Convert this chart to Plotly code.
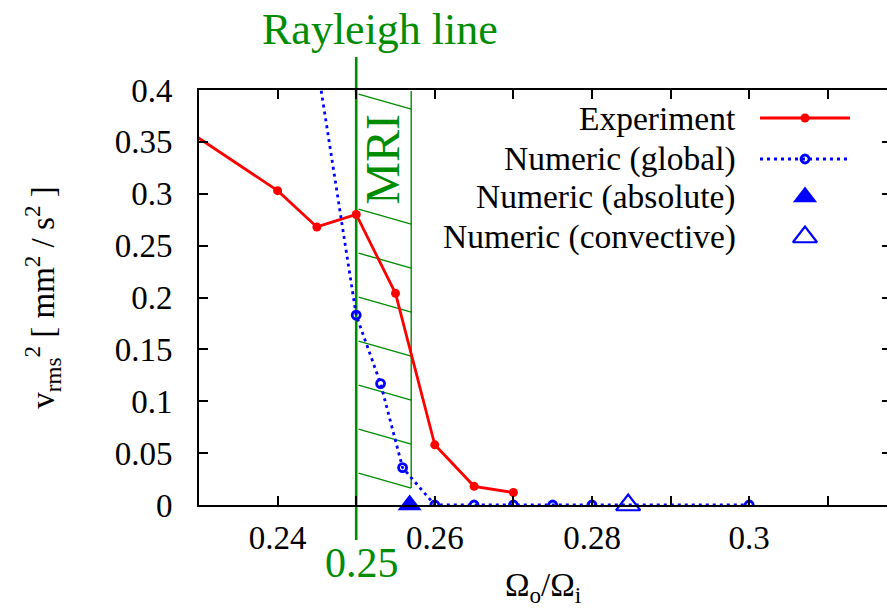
import plotly.graph_objects as go

# ---- data -------------------------------------------------------------
exp_ratio = [0.22, 0.24, 0.245, 0.25, 0.255, 0.26, 0.265, 0.27]
exp_vrms2 = [0.404, 0.303, 0.268, 0.280, 0.204, 0.058, 0.018, 0.012]

glob_ratio = [0.245, 0.25, 0.2531, 0.2559, 0.26, 0.265, 0.27, 0.275, 0.28, 0.30]
glob_vrms2 = [0.426, 0.183, 0.117, 0.036, 0.0, 0.0, 0.0, 0.0, 0.0, 0.0]

abs_ratio = [0.2568]
abs_vrms2 = [0.0]

conv_ratio = [0.2846]
conv_vrms2 = [0.0]

rayleigh_ratio = 0.25
mri_edge = 0.257

x_major = [0.24, 0.26, 0.28, 0.30]
x_major_text = ["0.24", "0.26", "0.28", "0.3"]
x_minor = [0.23, 0.25, 0.27, 0.29, 0.31]
y_ticks = [0.0, 0.05, 0.10, 0.15, 0.20, 0.25, 0.30, 0.35, 0.40]
y_tick_text = ["0", "0.05", "0.1", "0.15", "0.2", "0.25", "0.3", "0.35", "0.4"]

legend_labels = ["Experiment", "Numeric (global)", "Numeric (absolute)", "Numeric (convective)"]

# ---- styling ----------------------------------------------------------
FONT = "Liberation Serif"
RED = "#ff0000"
BLUE = "#0000ff"
GREEN = "#008c00"
W, H = 887, 609
ML, MR, MT, MB = 199, 0, 90, 104
PW, PH = W - ML - MR, H - MT - MB

fig = go.Figure()

exp_line = dict(color=RED, width=2.8)
exp_marker = dict(color=RED, size=9, symbol="circle")
glob_line = dict(color=BLUE, width=2.8, dash="3px,4px")
glob_marker = dict(color=BLUE, size=8, symbol="circle-open", line=dict(color=BLUE, width=2.8))
abs_marker = dict(color=BLUE, size=21, symbol="triangle-up")
conv_marker = dict(color=BLUE, size=21, symbol="triangle-up-open", line=dict(color=BLUE, width=2.2))

fig.add_trace(go.Scatter(x=exp_ratio, y=exp_vrms2, mode="lines+markers",
                         name=legend_labels[0], line=exp_line, marker=exp_marker))
fig.add_trace(go.Scatter(x=glob_ratio, y=glob_vrms2, mode="lines+markers",
                         name=legend_labels[1], line=glob_line, marker=glob_marker))
fig.add_trace(go.Scatter(x=abs_ratio, y=abs_vrms2, mode="markers", name=legend_labels[2],
                         marker=abs_marker, cliponaxis=False))
fig.add_trace(go.Scatter(x=conv_ratio, y=conv_vrms2, mode="markers", name=legend_labels[3],
                         marker=conv_marker, cliponaxis=False))
# carrier for the right-hand tick axis
fig.add_trace(go.Scatter(x=[], y=[], yaxis="y2", showlegend=False, hoverinfo="skip"))

# ---- key (drawn on a pixel-unit overlay axis) --------------------------
key_rows = [28, 69, 107, 147]
key_x0, key_x1, key_mid, key_text_right = 561, 651, 606, 539
key_styles = [(exp_line, exp_marker), (glob_line, glob_marker), (None, abs_marker),
              (None, conv_marker)]
for row, label, (ln, mk) in zip(key_rows, legend_labels, key_styles):
    if ln is not None:
        fig.add_trace(go.Scatter(x=[key_x0, key_x1], y=[row, row], mode="lines", line=ln,
                                 xaxis="x3", yaxis="y3", showlegend=False, hoverinfo="skip"))
    fig.add_trace(go.Scatter(x=[key_mid], y=[row], mode="markers", marker=mk,
                             xaxis="x3", yaxis="y3", showlegend=False, hoverinfo="skip"))
    fig.add_annotation(x=key_text_right, y=row, xref="x3", yref="y3", text=label,
                       showarrow=False, xanchor="right", yanchor="middle",
                       font=dict(family=FONT, size=33.5, color="black"))

# ---- Rayleigh line and hatched MRI band -------------------------------
shapes = []
shapes.append(dict(type="line", xref="x", yref="paper", x0=rayleigh_ratio, x1=rayleigh_ratio,
                   y0=-35 / PH, y1=(505 - 57) / PH, line=dict(color=GREEN, width=2.6),
                   layer="below"))
band_bottom, band_top = 0.0164, 0.399
shapes.append(dict(type="line", xref="x", yref="y", x0=mri_edge, x1=mri_edge,
                   y0=band_bottom, y1=band_top, line=dict(color=GREEN, width=1.4),
                   layer="below"))
hatch_x0 = rayleigh_ratio + 0.0003
hatch_drop = 0.0145
hatch_start, hatch_step = 0.0308, 0.0424
hatch_heights = [hatch_start + k * hatch_step for k in range(7)] + [0.396]
for h in hatch_heights:
    shapes.append(dict(type="line", xref="x", yref="y", x0=hatch_x0, x1=mri_edge,
                       y0=h, y1=h - hatch_drop, line=dict(color=GREEN, width=1.4),
                       layer="below"))
fig.update_layout(shapes=shapes)

fig.add_annotation(x=rayleigh_ratio, xref="x", xshift=24, y=(505 - 30) / PH, yref="paper",
                   text="Rayleigh line", showarrow=False, xanchor="center", yanchor="middle",
                   font=dict(family=FONT, size=44, color=GREEN))
fig.add_annotation(x=rayleigh_ratio, xref="x", xshift=6, y=(505 - 563) / PH, yref="paper",
                   text="0.25", showarrow=False, xanchor="center", yanchor="middle",
                   font=dict(family=FONT, size=42, color=GREEN))
fig.add_annotation(x=(rayleigh_ratio + mri_edge) / 2, xref="x", xshift=-1, y=0.3335, yref="y",
                   text="MRI", showarrow=False, textangle=-90, xanchor="center",
                   yanchor="middle", font=dict(family=FONT, size=48, color=GREEN))

tick_style = dict(ticks="inside", ticklen=9, tickwidth=1.5, tickcolor="black")
axis_common = dict(showline=True, linecolor="black", linewidth=2, showgrid=False,
                   zeroline=False, tickfont=dict(family=FONT, size=33, color="black"),
                   **tick_style)

fig.update_layout(
    width=W, height=H,
    margin=dict(l=ML, r=MR, t=MT, b=MB, pad=0),
    paper_bgcolor="white", plot_bgcolor="white",
    showlegend=False,
    font=dict(family=FONT),
    xaxis=dict(range=[0.23, 0.23 + PW / 78.6 * 0.01], tickvals=x_major, ticktext=x_major_text,
               minor=dict(tickvals=x_minor, showgrid=False, **tick_style),
               mirror="ticks", ticklabelstandoff=2,
               title=dict(text="Ω<sub>o</sub>/Ω<sub>i</sub>",
                          font=dict(family=FONT, size=33, color="black"), standoff=18),
               **axis_common),
    yaxis=dict(range=[0, 0.4], tickvals=y_ticks, ticktext=y_tick_text, ticklabelstandoff=18,
               title=dict(text="v<sub>rms</sub><sup>2</sup> [ mm<sup>2</sup> / s<sup>2</sup> ]",
                          font=dict(family=FONT, size=33, color="black"), standoff=50),
               **axis_common),
    yaxis2=dict(range=[0, 0.4], overlaying="y", side="right", anchor="x", tickvals=y_ticks,
                showticklabels=False, showline=False, ticks="inside", ticklen=5, tickwidth=1.5,
                tickcolor="black", showgrid=False, zeroline=False),
    xaxis3=dict(range=[0, PW], overlaying="x", visible=False, fixedrange=True),
    yaxis3=dict(range=[PH, 0], overlaying="y", visible=False, fixedrange=True),
)

fig.write_html("out.html")
